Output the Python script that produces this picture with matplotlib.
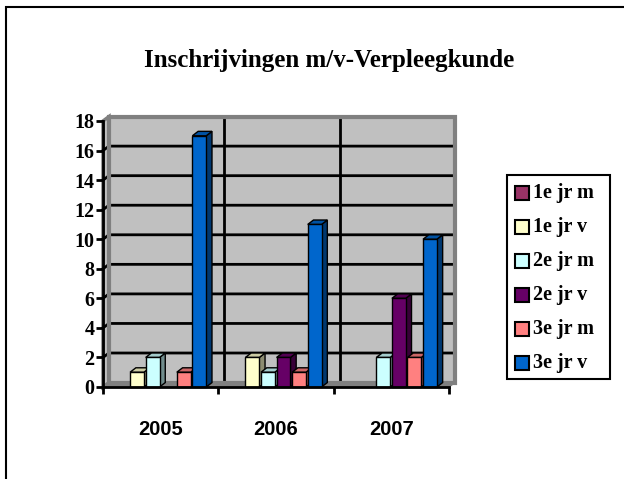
import matplotlib
matplotlib.use('Agg')
import matplotlib.pyplot as plt
from matplotlib.patches import Rectangle, Polygon
from matplotlib.colors import to_rgb

# data
years = ['2005', '2006', '2007']
series = ['1e jr m', '1e jr v', '2e jr m', '2e jr v', '3e jr m', '3e jr v']
values = {
    '1e jr m': [0, 0, 0],
    '1e jr v': [1, 2, 0],
    '2e jr m': [2, 1, 2],
    '2e jr v': [0, 2, 6],
    '3e jr m': [1, 1, 2],
    '3e jr v': [17, 11, 10],
}
colors = ['#993366', '#FFFFCC', '#CCFFFF', '#660066', '#FF8080', '#0066CC']
yticks = list(range(0, 19, 2))

W, H = 624, 479
fig = plt.figure(figsize=(W / 100, H / 100), dpi=100)


def fx(x):
    return x / W


def fy(y):
    return 1 - y / H


# plot area in pixels: x=0 at 103, x=3 at 449, y=0 at 387, y=18 at 121
ax = fig.add_axes([fx(103), fy(387), (449 - 103) / W, (387 - 121) / H])
ax.set_xlim(0, 3)
ax.set_ylim(0, 18)
ax.patch.set_visible(False)

dx, dy = 0.052, 0.3      # wall depth
bdx, bdy = 0.05, 0.3     # bar depth

# side wall and back wall
ax.add_patch(Polygon([(0, 0), (dx, dy), (dx, 18 + dy), (0, 18)], closed=True,
                     facecolor='#C0C0C0', edgecolor='#808080', lw=2.5, clip_on=False, zorder=1))
ax.add_patch(Polygon([(dx, dy), (3 + dx, dy), (3 + dx, 18 + dy), (dx, 18 + dy)], closed=True,
                     facecolor='#C0C0C0', edgecolor='none', clip_on=False, zorder=1))
# floor
ax.add_patch(Polygon([(0, 0), (3, 0), (3 + dx, dy), (dx, dy)], closed=True,
                     facecolor='#808080', edgecolor='#808080', lw=1, clip_on=False, zorder=2))

# gridlines
for y in yticks[1:-1]:
    ax.plot([0, dx, 3 + dx], [y, y + dy, y + dy], color='black', lw=2, clip_on=False, zorder=2)
for x in [1, 2]:
    ax.plot([x + dx, x + dx], [dy, 18 + dy], color='black', lw=2, clip_on=False, zorder=2)

# wall border
ax.add_patch(Polygon([(dx, dy), (3 + dx, dy), (3 + dx, 18 + dy), (dx, 18 + dy)], closed=True,
                     facecolor='none', edgecolor='#808080', lw=3, clip_on=False, zorder=2))


def shade(c, f):
    r, g, b = to_rgb(c)
    return (r * f, g * f, b * f)


offset, slot, bw = 0.1, 0.135, 0.12
z = 3
for ci in range(len(years)):
    for si, name in enumerate(series):
        h = values[name][ci]
        if h == 0:
            continue
        x = ci + offset + si * slot
        c = colors[si]
        ax.add_patch(Polygon([(x + bw, 0), (x + bw + bdx, bdy), (x + bw + bdx, h + bdy), (x + bw, h)],
                             closed=True, facecolor=shade(c, 0.55), edgecolor='black', lw=1,
                             clip_on=False, zorder=z))
        ax.add_patch(Polygon([(x, h), (x + bdx, h + bdy), (x + bw + bdx, h + bdy), (x + bw, h)],
                             closed=True, facecolor=shade(c, 0.8), edgecolor='black', lw=1,
                             clip_on=False, zorder=z))
        ax.add_patch(Rectangle((x, 0), bw, h, facecolor=c, edgecolor='black', lw=1,
                               clip_on=False, zorder=z))
        z += 1

# axes
for s in ['top', 'right']:
    ax.spines[s].set_visible(False)
ax.spines['left'].set_linewidth(2)
ax.spines['bottom'].set_linewidth(2)
ax.spines['left'].set_zorder(50)
ax.spines['bottom'].set_zorder(50)
ax.set_yticks(yticks)
ax.set_yticklabels([str(t) for t in yticks], fontfamily='Liberation Serif',
                   fontweight='bold', fontsize=14.5)
ax.tick_params(axis='y', direction='out', length=5, width=2, pad=1)
ax.set_xticks([0, 1, 2, 3])
ax.set_xticklabels([])
ax.set_xticks([0.5, 1.5, 2.5], minor=True)
ax.set_xticklabels(years, minor=True, fontfamily='Liberation Sans',
                   fontweight='bold', fontsize=14.5)
ax.tick_params(axis='x', which='major', direction='out', length=5, width=2)
ax.tick_params(axis='x', which='minor', length=0, pad=24)

# title
fig.text(fx(329), fy(60), 'Inschrijvingen m/v-Verpleegkunde', ha='center', va='center',
         fontfamily='Liberation Serif', fontweight='bold', fontsize=18)

# legend
fig.add_artist(Rectangle((fx(507), fy(379)), (610 - 507) / W, (379 - 175) / H,
                         transform=fig.transFigure, facecolor='white', edgecolor='black', lw=1.5))
for i, name in enumerate(series):
    yc = 193 + i * 34
    fig.add_artist(Rectangle((fx(515), fy(yc + 7)), 14 / W, 14 / H, transform=fig.transFigure,
                             facecolor=colors[i], edgecolor='black', lw=1.5))
    fig.text(fx(533), fy(yc), name, ha='left', va='center', fontfamily='Liberation Serif',
             fontweight='bold', fontsize=14.5)

# outer frame
fig.add_artist(Rectangle((fx(6), -0.1), 2, fy(7) + 0.1, transform=fig.transFigure,
                         facecolor='none', edgecolor='black', lw=1.5))

fig.savefig('out.png', dpi=100)
